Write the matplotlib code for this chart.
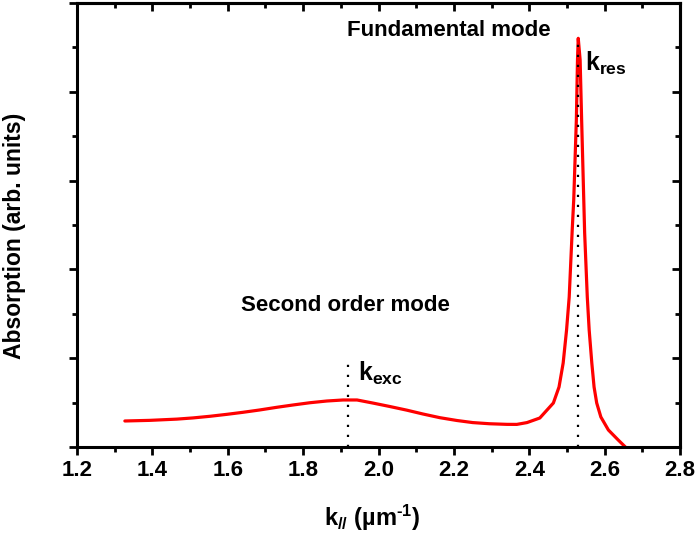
import matplotlib
matplotlib.use("Agg")
import matplotlib.pyplot as plt
from matplotlib.ticker import MultipleLocator, NullFormatter, FormatStrFormatter

plt.rcParams['font.family'] = ['Liberation Sans', 'DejaVu Sans']
plt.rcParams['font.weight'] = 'bold'
plt.rcParams['mathtext.fontset'] = 'custom'
plt.rcParams['mathtext.rm'] = 'Liberation Sans:bold'
plt.rcParams['mathtext.it'] = 'Liberation Sans:bold'
plt.rcParams['mathtext.bf'] = 'Liberation Sans:bold'
plt.rcParams['mathtext.default'] = 'rm'

# Data
k_vals = [1.327, 1.393, 1.465, 1.508, 1.553, 1.598, 1.640, 1.684, 1.730, 1.773,
          1.818, 1.863, 1.906, 1.943, 1.985, 2.030, 2.075, 2.118, 2.163, 2.208,
          2.250, 2.294, 2.341, 2.367, 2.394, 2.428, 2.464, 2.479, 2.490, 2.499,
          2.506, 2.514, 2.518, 2.525, 2.528, 2.530, 2.535, 2.539, 2.547, 2.554,
          2.559, 2.566, 2.572, 2.579, 2.590, 2.610, 2.636, 2.655]
absorption = [0.586, 0.600, 0.628, 0.655, 0.692, 0.736, 0.781, 0.833, 0.894, 0.946,
              0.997, 1.036, 1.059, 1.059, 0.99, 0.912, 0.83, 0.743, 0.66, 0.597,
              0.55, 0.524, 0.51, 0.509, 0.55, 0.653, 0.991, 1.351, 1.892, 2.635,
              3.378, 4.887, 5.563, 7.365, 8.716, 9.205, 8.716, 7.365, 4.820, 3.378,
              2.635, 1.892, 1.351, 0.991, 0.676, 0.383, 0.158, 0.0]

k_exc = 1.92
k_exc_top = 1.96
k_res = 2.53
k_res_top = 9.2

fig = plt.figure(figsize=(6.97, 5.5), dpi=100)
ax = fig.add_axes([77/697, 1-447/550, (680-77)/697, (447-3)/550])

ax.plot(k_vals, absorption, color='#ff0000', lw=2.3, solid_joinstyle='round',
        solid_capstyle='round')
ax.plot([k_exc, k_exc], [0, k_exc_top], color='black', ls=(0, (1, 3.5)), lw=1.6)
ax.plot([k_res, k_res], [0, k_res_top], color='black', ls=(0, (1, 3.5)), lw=1.6)

ax.set_xlim(1.2, 2.8)
ax.set_ylim(0, 10)
ax.xaxis.set_major_locator(MultipleLocator(0.2))
ax.xaxis.set_minor_locator(MultipleLocator(0.1))
ax.yaxis.set_major_locator(MultipleLocator(2))
ax.yaxis.set_minor_locator(MultipleLocator(1))
ax.yaxis.set_major_formatter(NullFormatter())
ax.xaxis.set_major_formatter(FormatStrFormatter('%.1f'))

for s in ax.spines.values():
    s.set_linewidth(2.2)
ax.tick_params(axis='both', which='major', direction='out', length=6, width=2,
               labelsize=16, pad=3)
ax.tick_params(axis='both', which='minor', direction='out', length=3.5, width=2)

# inward ticks on top and right
secx = ax.secondary_xaxis('top')
secx.xaxis.set_major_locator(MultipleLocator(0.2))
secx.xaxis.set_minor_locator(MultipleLocator(0.1))
secx.xaxis.set_major_formatter(NullFormatter())
secx.tick_params(which='major', direction='in', length=6, width=2)
secx.tick_params(which='minor', direction='in', length=3.5, width=2)
secx.spines['top'].set_linewidth(2.2)
secy = ax.secondary_yaxis('right')
secy.yaxis.set_major_locator(MultipleLocator(2))
secy.yaxis.set_minor_locator(MultipleLocator(1))
secy.yaxis.set_major_formatter(NullFormatter())
secy.tick_params(which='major', direction='in', length=6, width=2)
secy.tick_params(which='minor', direction='in', length=3.5, width=2)
secy.spines['right'].set_linewidth(2.2)

ax.set_xlabel('k$_{//}$ (µm$^{\u2010 1}$)', fontsize=17, fontweight='bold')
ax.set_ylabel('Absorption (arb. units)', fontsize=16.5, fontweight='bold')
ax.xaxis.set_label_coords(0.489, -0.125)
ax.yaxis.set_label_coords(-0.085, 0.475)

ax.text(2.187, 9.37, 'Fundamental mode', fontsize=16, ha='center', va='center')
ax.text(1.912, 3.18, 'Second order mode', fontsize=16, ha='center', va='center')
ax.text(1.945, 1.65, r'k$_{\mathrm{exc}}$', fontsize=18, ha='left', va='center')
ax.text(2.547, 8.65, r'k$_{\mathrm{res}}$', fontsize=18, ha='left', va='center')

fig.savefig('out.png', dpi=100)
